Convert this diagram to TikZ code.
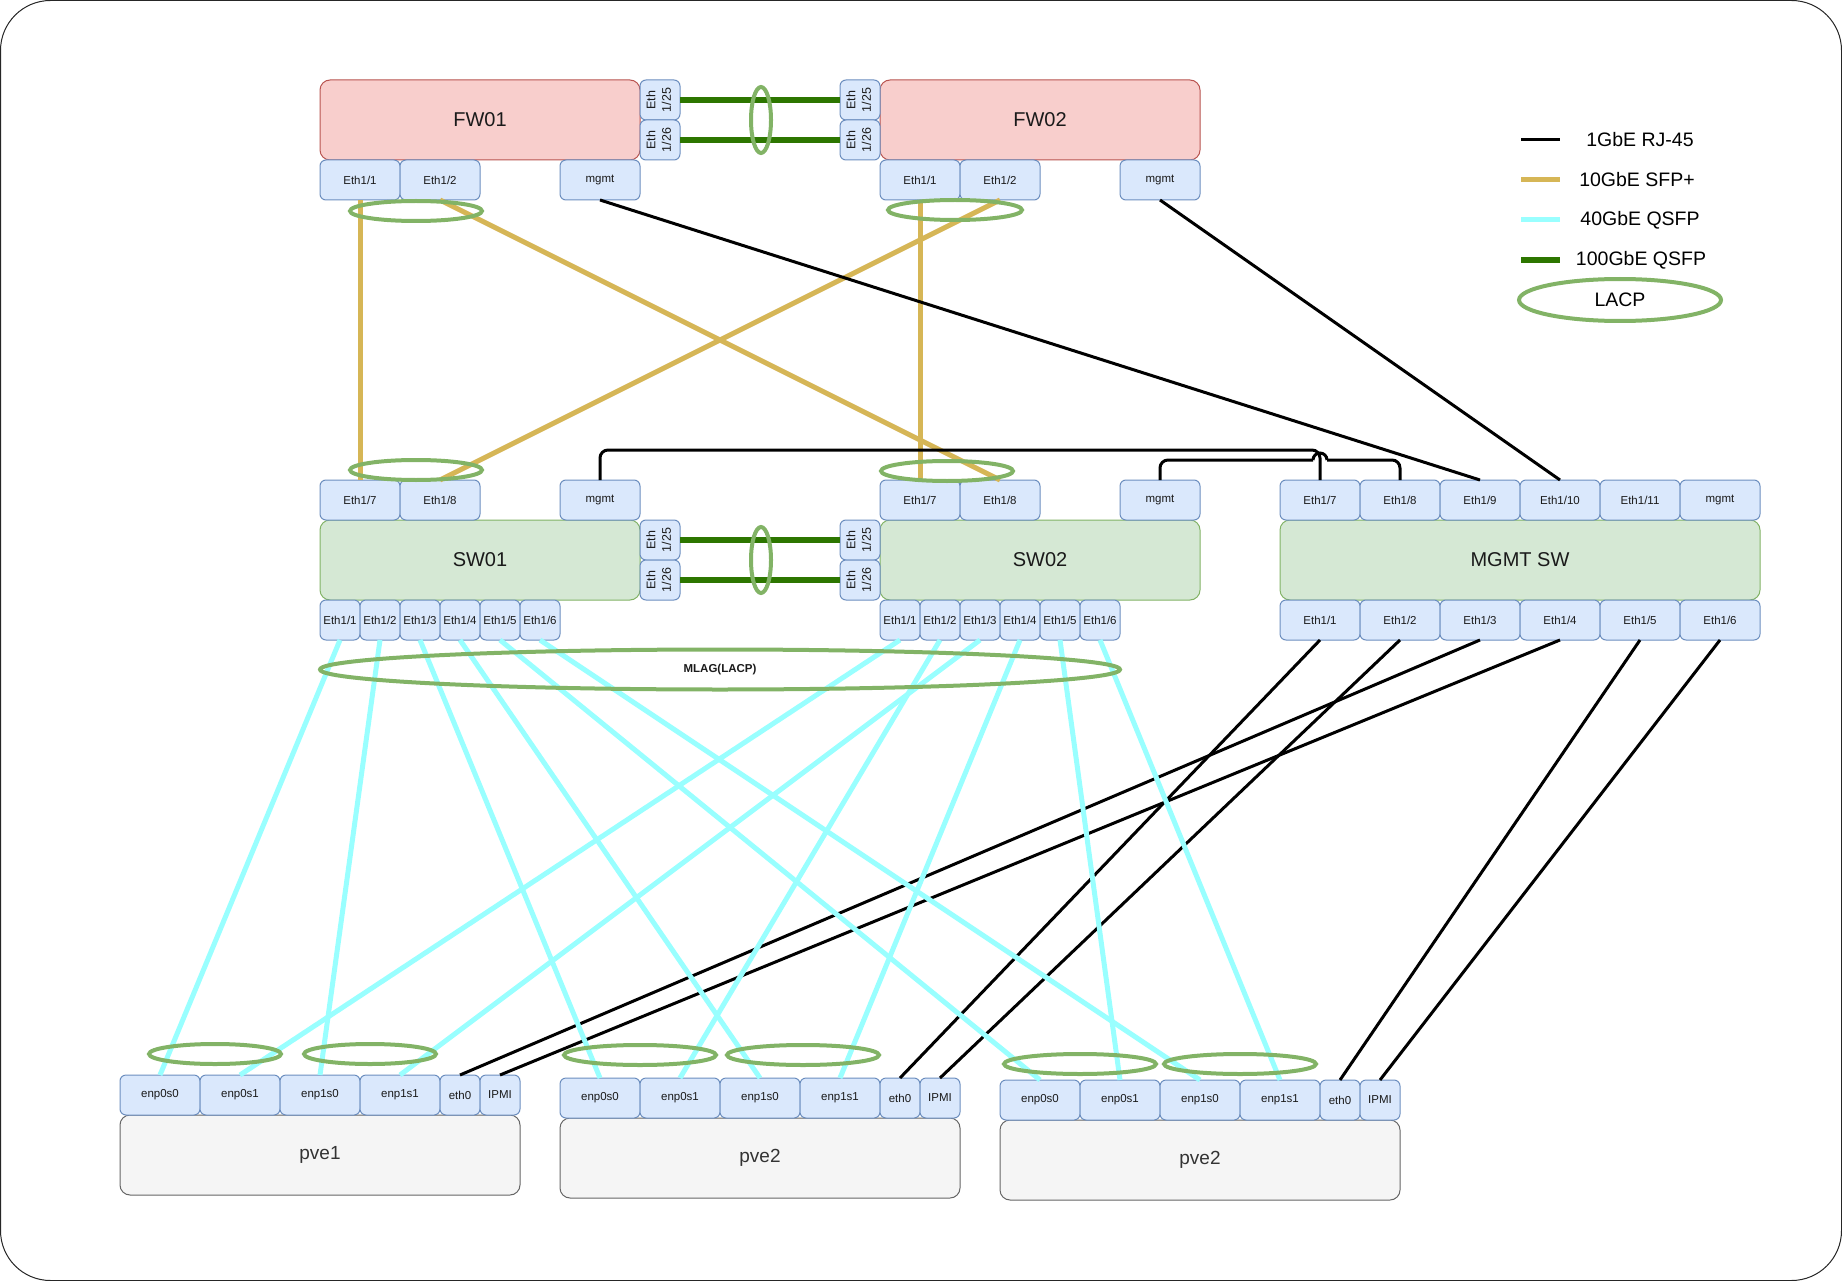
\documentclass[tikz,border=0pt]{standalone}
\usepackage{fontspec}
\setmainfont{Liberation Sans}
\usetikzlibrary{shapes.geometric}
\definecolor{portf}{HTML}{DAE8FC}
\definecolor{portb}{HTML}{6C8EBF}
\definecolor{fwf}{HTML}{F8CECC}
\definecolor{fwb}{HTML}{B85450}
\definecolor{swf}{HTML}{D5E8D4}
\definecolor{swb}{HTML}{82B366}
\definecolor{pvef}{HTML}{F5F5F5}
\definecolor{pveb}{HTML}{666666}
\definecolor{pvet}{HTML}{333333}
\definecolor{gold}{HTML}{D6B656}
\definecolor{cyanl}{HTML}{99FFFF}
\definecolor{dgreen}{HTML}{2D7600}
\definecolor{lacpc}{HTML}{82B366}
\definecolor{txt}{HTML}{1A1A1A}
\begin{document}
\begin{tikzpicture}[x=1pt,y=-1pt,
  port/.style={draw=portb, fill=portf, rounded corners=6, minimum width=80, minimum height=40, inner sep=0pt, outer sep=0pt, text=txt, font=\fontsize{11.5}{15}\selectfont, line width=1},
  sport/.style={port, minimum width=40},
  rport/.style={sport, font=\fontsize{12.5}{15.5}\selectfont},
  dev/.style={rounded corners=10, minimum height=80, inner sep=0pt, outer sep=0pt, text=txt, font=\fontsize{20}{24}\selectfont, line width=1},
  fw/.style={dev, draw=fwb, fill=fwf, minimum width=320},
  sw/.style={dev, draw=swb, fill=swf, minimum width=320},
  pvebox/.style={dev, draw=pveb, fill=pvef, minimum width=400, text=pvet, font=\fontsize{19}{23}\selectfont},
  l1/.style={line width=3, black},
  l10/.style={line width=5, gold},
  l40/.style={line width=5, cyanl},
  l100/.style={line width=6, dgreen},
  lag/.style={line width=4, lacpc},
  leg/.style={font=\fontsize{19.5}{23}\selectfont, text=black},
]
\useasboundingbox (0,0) rectangle (1842,1281);
\draw[line width=1, black!85, rounded corners=50] (0.5,0.5) rectangle (1841.5,1280.5);

% ---------- Firewalls ----------
\node[fw] (fw1) at (480,120) {FW01};
\node[fw] (fw2) at (1040,120) {FW02};
\node[rport] (fw1p25) at (660,100) {\rotatebox{90}{\begin{tabular}{@{}c@{}}Eth\\1/25\end{tabular}}};
\node[rport] (fw1p26) at (660,140) {\rotatebox{90}{\begin{tabular}{@{}c@{}}Eth\\1/26\end{tabular}}};
\node[rport] (fw2p25) at (860,100) {\rotatebox{90}{\begin{tabular}{@{}c@{}}Eth\\1/25\end{tabular}}};
\node[rport] (fw2p26) at (860,140) {\rotatebox{90}{\begin{tabular}{@{}c@{}}Eth\\1/26\end{tabular}}};
\node[port] (fw1e1) at (360,180) {Eth1/1};
\node[port] (fw1e2) at (440,180) {Eth1/2};
\node[port] (fw1m) at (600,180) {mgmt};
\node[port] (fw2e1) at (920,180) {Eth1/1};
\node[port] (fw2e2) at (1000,180) {Eth1/2};
\node[port] (fw2m) at (1160,180) {mgmt};

% ---------- Switches ----------
\node[sw] (sw1) at (480,560) {SW01};
\node[sw] (sw2) at (1040,560) {SW02};
\node[sw, minimum width=480] (mg) at (1520,560) {MGMT SW};
\node[rport] (sw1p25) at (660,540) {\rotatebox{90}{\begin{tabular}{@{}c@{}}Eth\\1/25\end{tabular}}};
\node[rport] (sw1p26) at (660,580) {\rotatebox{90}{\begin{tabular}{@{}c@{}}Eth\\1/26\end{tabular}}};
\node[rport] (sw2p25) at (860,540) {\rotatebox{90}{\begin{tabular}{@{}c@{}}Eth\\1/25\end{tabular}}};
\node[rport] (sw2p26) at (860,580) {\rotatebox{90}{\begin{tabular}{@{}c@{}}Eth\\1/26\end{tabular}}};
\node[port] (sw1e7) at (360,500) {Eth1/7};
\node[port] (sw1e8) at (440,500) {Eth1/8};
\node[port] (sw1m) at (600,500) {mgmt};
\node[port] (sw2e7) at (920,500) {Eth1/7};
\node[port] (sw2e8) at (1000,500) {Eth1/8};
\node[port] (sw2m) at (1160,500) {mgmt};
\foreach \i/\x in {1/340,2/380,3/420,4/460,5/500,6/540}
  \node[sport] (sw1b\i) at (\x,620) {Eth1/\i};
\foreach \i/\x in {1/900,2/940,3/980,4/1020,5/1060,6/1100}
  \node[sport] (sw2b\i) at (\x,620) {Eth1/\i};
\foreach \n/\t/\x in {7/Eth1\slash 7/1320,8/Eth1\slash 8/1400,9/Eth1\slash 9/1480,10/Eth1\slash 10/1560,11/Eth1\slash 11/1640}
  \node[port] (mge\n) at (\x,500) {\t};
\node[port] (mgm) at (1720,500) {mgmt};
\foreach \i/\x in {1/1320,2/1400,3/1480,4/1560,5/1640,6/1720}
  \node[port] (mgb\i) at (\x,620) {Eth1/\i};

% ---------- Servers ----------
\node[pvebox] (pve1) at (320,1155) {pve1};
\node[port] (pa0) at (160,1095) {enp0s0};
\node[port] (pa1) at (240,1095) {enp0s1};
\node[port] (pa2) at (320,1095) {enp1s0};
\node[port] (pa3) at (400,1095) {enp1s1};
\node[sport] (paeth) at (460,1095) {eth0};
\node[sport] (paipmi) at (500,1095) {IPMI};

\node[pvebox] (pve2) at (760,1158) {pve2};
\node[port] (pb0) at (600,1098) {enp0s0};
\node[port] (pb1) at (680,1098) {enp0s1};
\node[port] (pb2) at (760,1098) {enp1s0};
\node[port] (pb3) at (840,1098) {enp1s1};
\node[sport] (pbeth) at (900,1098) {eth0};
\node[sport] (pbipmi) at (940,1098) {IPMI};

\node[pvebox] (pve3) at (1200,1160) {pve2};
\node[port] (pc0) at (1040,1100) {enp0s0};
\node[port] (pc1) at (1120,1100) {enp0s1};
\node[port] (pc2) at (1200,1100) {enp1s0};
\node[port] (pc3) at (1280,1100) {enp1s1};
\node[sport] (pceth) at (1340,1100) {eth0};
\node[sport] (pcipmi) at (1380,1100) {IPMI};

% ---------- 100G ----------
\draw[l100] (fw1p25.east) -- (fw2p25.west);
\draw[l100] (fw1p26.east) -- (fw2p26.west);
\draw[l100] (sw1p25.east) -- (sw2p25.west);
\draw[l100] (sw1p26.east) -- (sw2p26.west);

% ---------- 10G ----------
\draw[l10] (fw1e1.south) -- (sw1e7.north);
\draw[l10] (fw1e2.south) -- (sw2e8.north);
\draw[l10] (fw2e1.south) -- (sw2e7.north);
\draw[l10] (fw2e2.south) -- (sw1e8.north);

% ---------- 1G ----------
\draw[l1] (fw1m.south) -- (mge9.north);
\draw[l1] (fw2m.south) -- (mge10.north);
\draw[l1, rounded corners=8] (sw1m.north) |- (1320,450) -- (mge7.north);
\coordinate (hopl) at (1313,460);
\coordinate (hopr) at (1327,460);
\draw[l1, rounded corners=8] (sw2m.north) |- (hopl);
\draw[l1] (hopl) arc[start angle=180, end angle=360, radius=7];
\draw[l1, rounded corners=8] (hopr) -| (mge8.north);
\draw[l1] (mgb1.south) -- (pbeth.north);
\draw[l1] (mgb2.south) -- (pbipmi.north);
\draw[l1] (mgb3.south) -- (paeth.north);
\draw[l1] (mgb4.south) -- (paipmi.north);
\draw[l1] (mgb5.south) -- (pceth.north);
\draw[l1] (mgb6.south) -- (pcipmi.north);

% ---------- 40G ----------
\draw[l40] (sw1b1.south) -- (pa0.north);
\draw[l40] (sw1b2.south) -- (pa2.north);
\draw[l40] (sw1b3.south) -- (pb0.north);
\draw[l40] (sw1b4.south) -- (pb2.north);
\draw[l40] (sw1b5.south) -- (pc0.north);
\draw[l40] (sw1b6.south) -- (pc2.north);
\draw[l40] (sw2b1.south) -- (pa1.north);
\draw[l40] (sw2b2.south) -- (pb1.north);
\draw[l40] (sw2b3.south) -- (pa3.north);
\draw[l40] (sw2b4.south) -- (pb3.north);
\draw[l40] (sw2b5.south) -- (pc1.north);
\draw[l40] (sw2b6.south) -- (pc3.north);

% ---------- LACP rings ----------
\draw[lag] (416,211) ellipse [x radius=66, y radius=10];
\draw[lag] (955,210) ellipse [x radius=67, y radius=10];
\draw[lag] (416,470) ellipse [x radius=66, y radius=10];
\draw[lag] (947,471) ellipse [x radius=66, y radius=10];
\draw[lag] (761,120) ellipse [x radius=10, y radius=33];
\draw[lag] (761,560) ellipse [x radius=10, y radius=33];
\node[ellipse, draw=lacpc, line width=4, minimum width=800, minimum height=40, inner sep=0pt, text=txt, font=\bfseries\fontsize{11.5}{13}\selectfont] (mlag) at (720,669.5) {MLAG(LACP)};
\draw[lag] (215,1054) ellipse [x radius=66, y radius=10];
\draw[lag] (370,1054) ellipse [x radius=66, y radius=10];
\draw[lag] (640,1055) ellipse [x radius=76, y radius=10];
\draw[lag] (803,1055) ellipse [x radius=76, y radius=10];
\draw[lag] (1080,1064) ellipse [x radius=76, y radius=10];
\draw[lag] (1240,1064) ellipse [x radius=76, y radius=10];

% ---------- Legend ----------
\coordinate (k1a) at (1521,140); \coordinate (k1b) at (1560,140);
\coordinate (k2a) at (1521,180); \coordinate (k2b) at (1560,180);
\coordinate (k3a) at (1521,220); \coordinate (k3b) at (1560,220);
\coordinate (k4a) at (1521,260); \coordinate (k4b) at (1560,260);
\draw[l1] (k1a) -- (k1b);
\draw[l10] (k2a) -- (k2b);
\draw[l40] (k3a) -- (k3b);
\draw[l100] (k4a) -- (k4b);
\node[leg] (lg1) at (1640,140) {1GbE RJ-45};
\node[leg] (lg2) at (1637,180) {10GbE SFP+};
\node[leg] (lg3) at (1640,220) {40GbE QSFP};
\node[leg] (lg4) at (1641,260) {100GbE QSFP};
\node[ellipse, draw=lacpc, line width=4, minimum width=202, minimum height=42, inner sep=0pt, leg] (lg5) at (1620,300) {LACP};
\end{tikzpicture}
\end{document}
